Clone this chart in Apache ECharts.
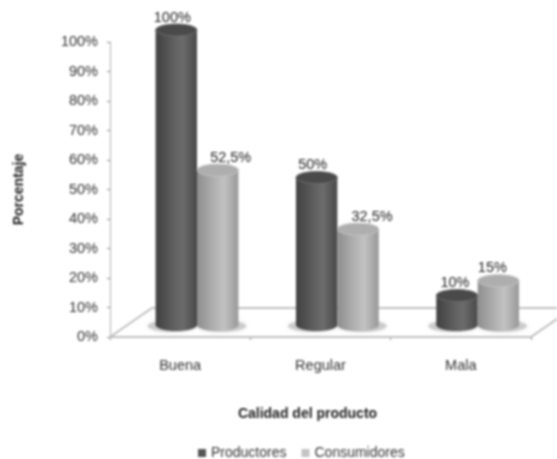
<!DOCTYPE html>
<html>
<head>
<meta charset="utf-8">
<style>
html,body{margin:0;padding:0;background:#fff}
#c{width:557px;height:459px;filter:blur(0.8px)}
</style>
<script src="https://cdn.jsdelivr.net/npm/echarts@6/dist/echarts.min.js"></script>
</head>
<body>
<div id="c"></div>
<script>
const categories = ['Buena', 'Regular', 'Mala'];
const productores = [100, 50, 10];
const consumidores = [52.5, 32.5, 15];
const productoresLabels = ['100%', '50%', '10%'];
const consumidoresLabels = ['52,5%', '32,5%', '15%'];
const yTicks = [0, 10, 20, 30, 40, 50, 60, 70, 80, 90, 100];

const FONT = '"Liberation Sans",Arial,sans-serif';
const labelNudge = [[-4, -4, -2], [13, 14, -6]];
const styles = [
  {stops: ['#404040', '#606060', '#6c6c6c', '#484848'], cap: '#4a4a4a', labels: productoresLabels, side: -1},
  {stops: ['#8e8e8e', '#b4b4b4', '#c2c2c2', '#989898'], cap: '#aeaeae', labels: consumidoresLabels, side: 1}
];

function cylinder(s) {
  return function (params, api) {
    const i = api.value(0), v = api.value(1);
    const unit = api.size([1, 0])[0];
    const w = unit * 0.295, rx = w / 2, ry = 6;
    const zero = api.coord([i, 0]), top = api.coord([i, v]);
    const cx = zero[0] + unit * 0.12 + s.side * w / 2;
    const yBase = zero[1] - 12;
    const yTop = top[1] - 12;
    const grad = new echarts.graphic.LinearGradient(0, 0, 1, 0, [
      {offset: 0, color: s.stops[0]}, {offset: 0.45, color: s.stops[1]},
      {offset: 0.65, color: s.stops[2]}, {offset: 1, color: s.stops[3]}
    ]);
    const n = labelNudge[params.seriesIndex - 1][i];
    return {
      type: 'group',
      children: [
        {type: 'ellipse', shape: {cx: cx + s.side * 4, cy: yBase + 1, rx: rx + 4, ry: ry}, style: {fill: 'rgba(150,150,150,0.4)', shadowBlur: 5, shadowColor: 'rgba(150,150,150,0.5)'}},
        {type: 'rect', shape: {x: cx - rx, y: yTop, width: w, height: yBase - yTop}, style: {fill: grad}},
        {type: 'ellipse', shape: {cx: cx, cy: yBase, rx: rx, ry: ry}, style: {fill: grad}},
        {type: 'ellipse', shape: {cx: cx, cy: yTop, rx: rx, ry: ry}, style: {fill: s.cap, stroke: s.stops[2], lineWidth: 1}},
        {type: 'text', style: {
          x: cx + n, y: yTop - ry + 1, text: s.labels[i], align: 'center', verticalAlign: 'bottom',
          font: '14.5px ' + FONT, fill: '#222'
        }}
      ]
    };
  };
}

function floor(params, api) {
  const half = api.size([1, 0])[0] / 2;
  const y = api.coord([0, 0])[1];
  const ax = api.coord([0, 0])[0] - half;
  const bx = api.coord([2, 0])[0] + half;
  const dx = 42, dy = -29;
  const line = (x1, y1, x2, y2) => ({
    type: 'line', shape: {x1, y1, x2, y2}, style: {stroke: '#c0c0c0', lineWidth: 2}
  });
  return {
    type: 'group',
    children: [
      line(ax, y, bx, y),
      line(ax, y, ax + dx, y + dy),
      line(ax + dx, y + dy, bx + dx, y + dy),
      line(bx, y, bx + dx, y + dy)
    ]
  };
}

const chart = echarts.init(document.getElementById('c'), null, {renderer: 'canvas'});
chart.setOption({
  animation: false,
  backgroundColor: '#fff',
  grid: {left: 110, right: 26, top: 42, bottom: 122},
  legend: {
    data: [
      {name: 'Productores', itemStyle: {color: '#555555'}},
      {name: 'Consumidores', itemStyle: {color: '#c4c4c4'}}
    ],
    left: 193, top: 441, icon: 'rect', itemWidth: 8, itemHeight: 8, itemGap: 15,
    textStyle: {fontFamily: FONT, fontSize: 14, color: '#333'}
  },
  xAxis: {
    type: 'category', data: categories,
    name: 'Calidad del producto', nameLocation: 'middle', nameGap: 70,
    nameTextStyle: {fontFamily: FONT, fontWeight: 'bold', fontSize: 14, color: '#222', padding: [0, 26, 0, 0]},
    axisLine: {lineStyle: {color: '#b0b0b0', width: 1}},
    axisTick: {show: true, length: 3, lineStyle: {color: '#888'}},
    axisLabel: {fontFamily: FONT, fontSize: 14.5, color: '#333', margin: 21}
  },
  yAxis: {
    type: 'value', min: 0, max: 100, interval: 10,
    name: 'Porcentaje', nameLocation: 'middle', nameGap: 84, nameRotate: 90,
    nameTextStyle: {fontFamily: FONT, fontWeight: 'bold', fontSize: 14, color: '#222'},
    axisLine: {show: true, lineStyle: {color: '#b0b0b0', width: 1}},
    axisTick: {show: true, length: 3, lineStyle: {color: '#888'}},
    splitLine: {show: false},
    axisLabel: {
      fontFamily: FONT, fontSize: 14.5, color: '#333', margin: 12, padding: [3, 0, 0, 0],
      formatter: v => (yTicks.includes(v) ? v + '%' : '')
    }
  },
  series: [
    {type: 'custom', name: 'floor', silent: true, z: 1, clip: false, renderItem: floor, data: [[0, 0]], encode: {x: 0, y: 1}},
    {type: 'custom', name: 'Productores', z: 2, clip: false, renderItem: cylinder(styles[0]),
      itemStyle: {color: '#555555'}, data: categories.map((c, i) => [i, productores[i]]), encode: {x: 0, y: 1}},
    {type: 'custom', name: 'Consumidores', z: 3, clip: false, renderItem: cylinder(styles[1]),
      itemStyle: {color: '#c4c4c4'}, data: categories.map((c, i) => [i, consumidores[i]]), encode: {x: 0, y: 1}}
  ]
});
</script>
</body>
</html>
